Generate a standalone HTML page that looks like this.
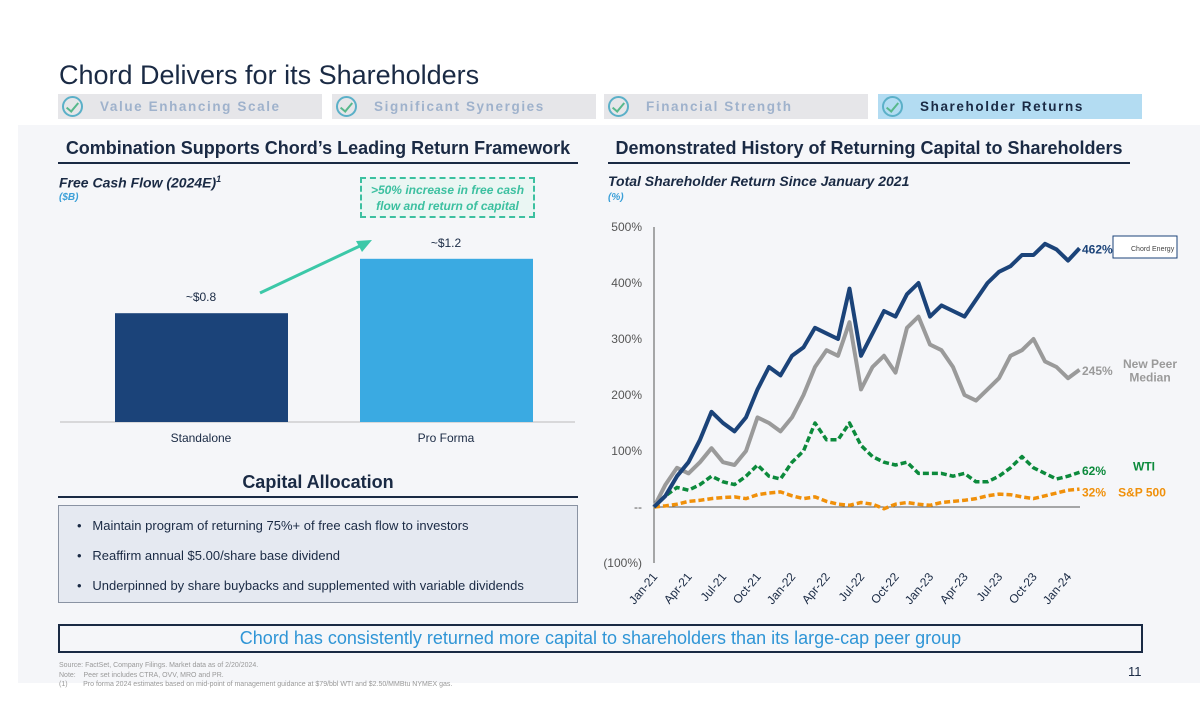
<!DOCTYPE html>
<html><head><meta charset="utf-8"><style>
*{margin:0;padding:0;box-sizing:border-box}
body{width:1200px;height:728px;background:#fff;font-family:"Liberation Sans",sans-serif;position:relative;overflow:hidden}
.a{position:absolute}
.tab{position:absolute;top:94px;height:25px;width:264px;background:#e6e6e9;font-weight:bold;font-size:13.5px;letter-spacing:1.6px;color:#9fb2cc;padding-left:42px;line-height:25px}
.ck{position:absolute;left:4px;top:2px;width:21px;height:21px;border-radius:50%;border:2px solid #5bb0c8}
.ck:after{content:"";position:absolute;left:5px;top:2px;width:5px;height:10px;border:solid #58b88c;border-width:0 2px 2px 0;transform:rotate(40deg)}
.h2{position:absolute;font-weight:bold;font-size:18px;color:#1a2a44;text-align:center;border-bottom:2px solid #1a2a44;padding-bottom:3px;white-space:nowrap}
</style></head><body>
<div class="a" style="left:18px;top:125px;width:1182px;height:558px;background:#f5f6f9"></div>
<div class="a" style="left:59px;top:60px;font-size:27px;color:#1a2a44">Chord Delivers for its Shareholders</div>
<div class="tab" style="left:58px"><span class="ck"></span>Value Enhancing Scale</div>
<div class="tab" style="left:332px"><span class="ck"></span>Significant Synergies</div>
<div class="tab" style="left:604px"><span class="ck"></span>Financial Strength</div>
<div class="tab" style="left:878px;background:#b3dcf2;color:#1a2a44"><span class="ck"></span>Shareholder Returns</div>
<div class="h2" style="left:58px;top:138px;width:520px">Combination Supports Chord’s Leading Return Framework</div>
<div class="h2" style="left:608px;top:138px;width:522px">Demonstrated History of Returning Capital to Shareholders</div>
<div class="a" style="left:59px;top:174px;font-size:14px;font-weight:bold;font-style:italic;color:#1a2a44">Free Cash Flow (2024E)<sup style="font-size:9px">1</sup></div>
<div class="a" style="left:59px;top:192px;font-size:10px;font-weight:bold;font-style:italic;color:#3a9fd8">($B)</div>
<div class="a" style="left:360px;top:177px;width:175px;height:41px;border:2px dashed #3cc0a0;background:#eaf6f3;color:#3cc0a0;font-size:12px;font-weight:bold;font-style:italic;text-align:center;line-height:16px;padding-top:3px">&gt;50% increase in free cash flow and return of capital</div>
<div class="a" style="left:608px;top:173px;font-size:14px;font-weight:bold;font-style:italic;color:#1a2a44">Total Shareholder Return Since January 2021</div>
<div class="a" style="left:608px;top:192px;font-size:10px;font-weight:bold;font-style:italic;color:#3a9fd8">(%)</div>
<svg class="a" style="left:0;top:0" width="1200" height="728" id="sv"></svg>
<div class="h2" style="left:58px;top:472px;width:520px">Capital Allocation</div>
<div class="a" style="left:58px;top:505px;width:520px;height:98px;background:#e5e9f1;border:1px solid #8a93a3;font-size:13px;color:#1a2a44">
<div style="position:absolute;left:18px;top:12px">•&nbsp;&nbsp;&nbsp;Maintain program of returning 75%+ of free cash flow to investors</div>
<div style="position:absolute;left:18px;top:42px">•&nbsp;&nbsp;&nbsp;Reaffirm annual $5.00/share base dividend</div>
<div style="position:absolute;left:18px;top:72px">•&nbsp;&nbsp;&nbsp;Underpinned by share buybacks and supplemented with variable dividends</div></div>
<div class="a" style="left:58px;top:624px;width:1085px;height:29px;border:2px solid #1a2a44;color:#2f95d6;font-size:18px;text-align:center;line-height:25px">Chord has consistently returned more capital to shareholders than its large-cap peer group</div>
<div class="a" style="left:59px;top:661px;font-size:7px;color:#999;line-height:9.5px">Source: FactSet, Company Filings. Market data as of 2/20/2024.<br>Note:&nbsp;&nbsp;&nbsp;&nbsp;Peer set includes CTRA, OVV, MRO and PR.<br>(1)&nbsp;&nbsp;&nbsp;&nbsp;&nbsp;&nbsp;&nbsp;&nbsp;Pro forma 2024 estimates based on mid-point of management guidance at $79/bbl WTI and $2.50/MMBtu NYMEX gas.</div>
<div class="a" style="left:1128px;top:664px;font-size:13px;color:#1a2a44">11</div>
<script>
const barCats=["Standalone","Pro Forma"];
const barVals=[0.8,1.2];
const barLabels=["~$0.8","~$1.2"];
const xLabels=["Jan-21","Apr-21","Jul-21","Oct-21","Jan-22","Apr-22","Jul-22","Oct-22","Jan-23","Apr-23","Jul-23","Oct-23","Jan-24"];
const yTicks=[500,400,300,200,100,0,-100];
const yTickLabels=["500%","400%","300%","200%","100%","--","(100%)"];
const chord=[0,20,55,80,120,170,150,135,160,210,250,235,270,285,320,310,300,390,270,310,350,340,380,400,340,360,350,340,370,400,420,430,450,450,470,460,440,462];
const peer=[0,40,70,60,80,105,80,75,100,160,150,135,160,200,250,280,270,330,210,250,270,240,320,340,290,280,250,200,190,210,230,270,280,300,260,250,230,245];
const wti=[0,20,35,30,40,55,45,40,55,75,55,50,80,100,150,120,120,150,110,90,80,75,80,60,60,60,55,60,45,45,55,70,90,70,60,50,55,62];
const spx=[0,2,5,10,12,15,17,18,15,22,25,27,20,15,18,10,5,3,8,5,-3,5,8,5,3,8,10,12,15,20,23,22,18,15,20,25,30,32];
const sv=document.getElementById('sv');const NS="http://www.w3.org/2000/svg";
function mk(t,a,txt){const e=document.createElementNS(NS,t);for(const k in a)e.setAttribute(k,a[k]);if(txt!==undefined)e.textContent=txt;sv.appendChild(e);return e;}
const bBase=422,bScale=136;const bX=v=>[115,360][v];
let e=mk('line',{x1:60,y1:bBase,x2:575,y2:bBase,stroke:'#bbb'});


const bCol=['#1b4379','#3aaae2'];
barVals.forEach((v,i)=>{const h=v*bScale;
e=mk('rect',{x:bX(i),y:bBase-h,width:173,height:h,fill:bCol[i]});


e=mk('text',{x:bX(i)+86,y:bBase-h-12,'text-anchor':'middle','font-size':12,fill:'#1a2a44'},barLabels[i]);


e=mk('text',{x:bX(i)+86,y:bBase+20,'text-anchor':'middle','font-size':12,fill:'#1a2a44'},barCats[i]);

});
e=mk('line',{x1:260,y1:293,x2:362,y2:245,stroke:'#3cc8a8','stroke-width':3});


e=mk('polygon',{points:'372,240 356,241 362,252',fill:'#3cc8a8'});


const x0=654,dx=11.5,y0=507,py=0.56;
const X=i=>x0+i*dx,Y=v=>y0-v*py;
e=mk('line',{x1:x0,y1:Y(500),x2:x0,y2:Y(-100),stroke:'#555'});


e=mk('line',{x1:x0,y1:Y(0),x2:1080,y2:Y(0),stroke:'#555'});


yTicks.forEach((t,i)=>{e=mk('text',{x:642,y:Y(t)+4,'text-anchor':'end','font-size':12,fill:'#555'},yTickLabels[i]);

});
xLabels.forEach((l,i)=>{const x=X(i*3);e=mk('text',{x:x+4,y:577,'text-anchor':'end','font-size':12,fill:'#1a2a44',transform:`rotate(-50 ${x+4} 577)`},l);

});
function line(d,c,w,dash,name){const p=d.map((v,i)=>(i?'L':'M')+X(i).toFixed(1)+','+Y(v).toFixed(1)).join('');
const a={d:p,fill:'none',stroke:c,'stroke-width':w,'stroke-linejoin':'round'};if(dash)a['stroke-dasharray']=dash;
e=mk('path',a);

}
line(spx,'#f0900a',3.5,'6 3','sp500-line');
line(wti,'#0c8a3c',3.5,'6 3','wti-line');
line(peer,'#9a9a9a',4,null,'peer-median-line');
line(chord,'#1b4379',4,null,'chord-line');
const L=chord.length-1;
function lab(v,txt,c,name,x,anc){e=mk('text',{x:x||1082,y:Y(v)+5,'font-size':12,'font-weight':'bold',fill:c,'text-anchor':anc||'start'},txt);

}
lab(chord[L],chord[L]+'%','#1b4379','chord-end-label');
lab(peer[L],peer[L]+'%','#9a9a9a','peer-end-label');
lab(wti[L]+4,wti[L]+'%','#0c8a3c','wti-end-label');
lab(spx[L]-4,spx[L]+'%','#f0900a','sp500-end-label');
lab(peer[L]+12,'New Peer','#9a9a9a','peer-legend',1150,'middle');lab(peer[L]-12,'Median','#9a9a9a','peer-legend-2',1150,'middle');
lab(wti[L]+12,'WTI','#0c8a3c','wti-legend',1144,'middle');
lab(spx[L]-4,'S&P 500','#f0900a','sp500-legend',1142,'middle');
e=mk('rect',{x:1113,y:236,width:64,height:22,fill:'#fff',stroke:'#1b4379','stroke-width':1});


e=mk('text',{x:1131,y:251,'font-size':7,fill:'#444'},'Chord Energy');


</script>
</body></html>
